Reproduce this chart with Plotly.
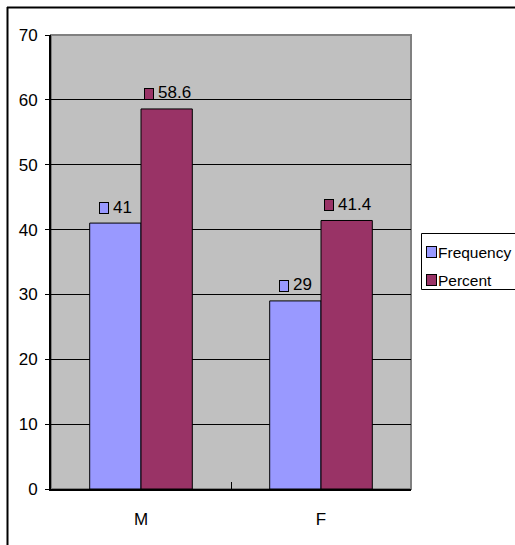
import plotly.graph_objects as go

categories = ["M", "F"]
frequency = [41, 29]
percent = [58.6, 41.4]
series_names = ["Frequency", "Percent"]
series_colors = ["#9999FF", "#993366"]

FONT = "Liberation Sans, Arial, sans-serif"
FS = 17

W, H = 515, 545
ML, MR, MT, MB = 51, 104, 35, 56
PW = W - ML - MR
PH = H - MT - MB

fig = go.Figure()
for name, vals, col in zip(series_names, [frequency, percent], series_colors):
    fig.add_trace(go.Bar(
        x=categories, y=vals, name=name,
        marker=dict(color=col, line=dict(color="#000000", width=1)),
    ))

bargap = 0.43
cat_px = PW / len(categories)
bar_px = cat_px * (1 - bargap) / 2


def text_width(s, fs):
    w = 0
    for ch in s:
        w += 0.278 if ch == "." else 0.556
    return w * fs * 0.95


annotations = []
for si, (vals, col) in enumerate(zip([frequency, percent], series_colors)):
    off = (-0.5 + si) * bar_px
    for cat, v in zip(categories, vals):
        label = f"{v:g}"
        tw = text_width(label, FS)
        sq, gap = 10, 4
        total = sq + gap + tw
        left = off - total / 2
        annotations.append(dict(
            x=cat, y=v, xref="x", yref="y", text="", showarrow=False,
            xanchor="left", yanchor="middle", xshift=left, yshift=15,
            width=sq - 2, height=sq, bgcolor=col, bordercolor="#000000",
            borderwidth=1, borderpad=0,
        ))
        annotations.append(dict(
            x=cat, y=v, xref="x", yref="y", text=label, showarrow=False,
            xanchor="left", yanchor="middle", xshift=left + sq + gap - 2, yshift=16,
            font=dict(family=FONT, size=FS, color="#000000"),
        ))


def px_x(p):
    return (p - ML) / PW


def px_y(p):
    return (H - MB - p) / PH


shapes = [
    dict(type="rect", xref="paper", yref="paper", x0=0, x1=1, y0=0, y1=1,
         line=dict(color="#808080", width=2), layer="below"),
    dict(type="line", xref="paper", yref="paper", x0=px_x(7), x1=px_x(W + 5),
         y0=px_y(7.5), y1=px_y(7.5), line=dict(color="#000000", width=2)),
    dict(type="line", xref="paper", yref="paper", x0=px_x(7.5), x1=px_x(7.5),
         y0=px_y(7), y1=px_y(H + 5), line=dict(color="#000000", width=2)),
    # legend box
    dict(type="rect", xref="paper", yref="paper", x0=px_x(421.5), x1=px_x(W + 10),
         y0=px_y(289.5), y1=px_y(233.5), fillcolor="#FFFFFF",
         line=dict(color="#000000", width=1)),
]

legend_rows_y = [252, 280]
for name, col, yy in zip(series_names, series_colors, legend_rows_y):
    annotations.append(dict(
        x=px_x(426), y=px_y(yy), xref="paper", yref="paper", text="",
        showarrow=False, xanchor="left", yanchor="middle",
        width=9, height=10, bgcolor=col, bordercolor="#000000",
        borderwidth=1, borderpad=0,
    ))
    annotations.append(dict(
        x=px_x(436), y=px_y(yy), xref="paper", yref="paper", text=name,
        showarrow=False, xanchor="left", yanchor="middle",
        font=dict(family=FONT, size=15.5, color="#000000"),
    ))

fig.update_layout(
    width=W, height=H,
    margin=dict(l=ML, r=MR, t=MT, b=MB, autoexpand=False),
    paper_bgcolor="#FFFFFF", plot_bgcolor="#C0C0C0",
    barmode="group", bargap=bargap, bargroupgap=0,
    font=dict(family=FONT, size=FS, color="#000000"),
    showlegend=False,
    annotations=annotations,
    shapes=shapes,
)
fig.update_xaxes(
    showline=True, linecolor="#000000", linewidth=2,
    ticks="inside", tickson="boundaries", ticklen=7, tickcolor="#000000",
    ticklabelstandoff=14, showgrid=False,
    tickfont=dict(family=FONT, size=FS, color="#000000"),
)
fig.update_yaxes(
    range=[0, 70], dtick=10, showline=True, linecolor="#000000", linewidth=2,
    ticks="outside", ticklen=4, tickcolor="#000000",
    showgrid=True, gridcolor="#000000", gridwidth=1, zeroline=False,
    tickfont=dict(family=FONT, size=FS, color="#000000"),
    ticklabelstandoff=4,
)

fig.write_html("out.html", config={"displayModeBar": False},
               post_script="document.body.style.margin='0';")
